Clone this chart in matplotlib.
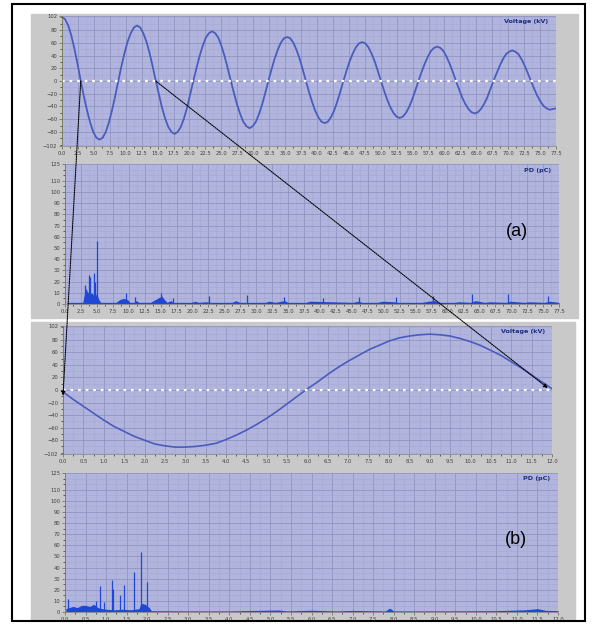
import numpy as np
import matplotlib.pyplot as plt
from matplotlib.patches import Rectangle, ConnectionPatch
from matplotlib.ticker import MultipleLocator, FormatStrFormatter

W, H = 597, 624

# (a) voltage trace, 0 - 77.5 ms (kV)
volt_a = [100, 97, 87, 71, 50, 26, 0, -24, -46, -65, -80, -89,
          -92, -89, -80, -65, -46, -24, 0, 23, 44, 62, 75, 84,
          87, 84, 75, 62, 44, 23, 0, -21, -42, -59, -72, -80,
          -83, -80, -72, -59, -42, -21, 0, 20, 39, 55, 68, 75,
          78, 75, 68, 55, 39, 20, 0, -19, -37, -52, -64, -71,
          -74, -71, -64, -52, -37, -19, 0, 18, 35, 49, 60, 67,
          69, 67, 60, 49, 35, 18, 0, -17, -33, -47, -57, -64,
          -66, -64, -57, -47, -33, -17, 0, 16, 31, 43, 53, 59,
          61, 59, 53, 43, 31, 16, 0, -15, -29, -41, -50, -56,
          -58, -56, -50, -41, -29, -15, 0, 14, 27, 38, 47, 52,
          54, 52, 47, 38, 27, 14, 0, -13, -26, -36, -44, -49,
          -51, -49, -44, -36, -26, -13, 0, 12, 24, 34, 42, 46,
          48, 46, 42, 34, 24, 12, 0, -12, -23, -32, -39, -43,
          -45, -44, -43]
time_a = np.linspace(0, 77.5, len(volt_a))

# (b) voltage trace, 0 - 12 ms
volt_b = [-3, -15, -26, -37, -48, -58, -66, -74, -80, -86, -89, -91,
          -91, -90, -88, -85, -79, -72, -64, -55, -45, -34, -22, -10,
          2, 13, 25, 36, 46, 55, 64, 71, 78, 83, 86, 88,
          89, 88, 86, 82, 77, 71, 63, 55, 45, 35, 24, 13, 2]
time_b = np.linspace(0, 12, len(volt_b))

# (a) PD: background level and spikes (pC)
floor_a_t = [0.3, 2.8, 3.0, 3.4, 3.8, 4.2, 4.6, 5.0, 5.3, 5.6,
             8.0, 8.6, 9.2, 9.8, 10.2, 10.8, 11.2, 11.6, 13.4, 14.2,
             14.8, 15.2, 15.6, 16.0, 16.6, 17.0, 19.8, 20.4, 21.0, 22.2,
             22.8, 26.2, 26.8, 27.4, 31.4, 32.0, 33.0, 34.4, 35.0, 37.8,
             38.4, 45.2, 46.0, 46.6, 49.0, 49.8, 51.6, 52.2, 56.0, 57.0,
             58.0, 58.6, 61.0, 61.8, 63.6, 64.4, 65.8, 66.6, 69.2, 69.8,
             72.0, 72.8, 75.2, 76.0, 77.5]
floor_a_h = [1.5, 1.5, 8, 12, 9, 10, 7, 9, 4, 1.5,
             1.5, 4, 5, 4, 1.5, 1.5, 3, 1.5, 1.5, 4,
             6, 7, 4, 1.5, 3, 1.5, 1.5, 2.5, 1.5, 2,
             1.5, 1.5, 3, 1.5, 1.5, 2.5, 1.5, 3, 1.5, 1.5,
             2.5, 1.5, 2.5, 1.5, 1.5, 2.5, 2, 1.5, 1.5, 2.5,
             3, 1.5, 1.5, 2, 1.5, 3, 1.5, 2, 1.5, 2.5,
             1.5, 2, 1.5, 2.5, 1.5]
spike_a_t = [3.1, 3.3, 3.8, 4.0, 4.5, 4.7, 5.07, 9.5, 11.0, 15.1, 16.9,
             22.6, 28.5, 34.4, 40.4, 46.1, 52.0, 57.7, 63.9, 69.5, 75.7]
spike_a_h = [17, 13, 26, 24, 28, 20, 56, 10, 6, 10, 5,
             7, 8, 6, 5, 6, 6, 7, 9, 9, 7]

# (b) PD
floor_b_t = [0.02, 0.1, 0.2, 0.3, 0.4, 0.5, 0.6, 0.7, 0.8, 0.9,
             1.0, 1.2, 1.4, 1.6, 1.8, 1.85, 1.95, 2.05, 2.1, 3.0,
             4.0, 5.2, 5.4, 6.0, 6.6, 7.0, 7.8, 7.9, 8.0, 9.0,
             10.5, 11.2, 11.5, 11.7, 12.0]
floor_b_h = [3, 4, 5, 4, 6, 6, 5, 7, 4, 3,
             2.5, 2, 2.5, 2, 3, 8, 7, 4, 1.2, 1,
             1, 1.8, 1, 1.6, 1, 1.4, 1, 3.5, 1, 1,
             1.2, 2, 3, 1.5, 1.2]
spike_b_t = [0.08, 0.76, 0.84, 0.95, 1.14, 1.16, 1.35, 1.43, 1.67, 1.86, 2.0]
spike_b_h = [12, 10, 23, 9, 29, 21, 15, 24, 36, 54, 27]

volt_ticks = [-102, -80, -60, -40, -20, 0, 20, 40, 60, 80, 102]
pd_ticks = [0, 10, 20, 30, 40, 50, 60, 70, 80, 90, 100, 110, 125]

plot_bg = '#b1b5de'
panel_gray = '#c9c9c9'
line_col = '#4a5cbc'
pd_col = '#1f48d6'


def box(x0, y0, x1, y1):
    return [x0 / W, 1 - y1 / H, (x1 - x0) / W, (y1 - y0) / H]


def style(ax, xmax, xstep, yticks, ylim, yminor, name):
    ax.set_facecolor(plot_bg)
    ax.set_xlim(0, xmax)
    ax.set_ylim(*ylim)
    ax.set_xticks(np.arange(0, xmax + 0.001, xstep))
    ax.xaxis.set_major_formatter(FormatStrFormatter('%.1f'))
    ax.xaxis.set_minor_locator(MultipleLocator(xstep / 2))
    ax.set_yticks(yticks)
    ax.yaxis.set_minor_locator(MultipleLocator(yminor))
    ax.grid(True, which='major', color='#9094c2', lw=0.6)
    ax.grid(True, which='minor', color='#a4a8d2', lw=0.4)
    ax.set_axisbelow(True)
    ax.tick_params(labelsize=3.8, labelcolor='#404040', colors='#606060',
                   length=2, width=0.5, pad=1.5)
    ax.tick_params(which='minor', length=1.2, width=0.4)
    for s in ['top', 'right']:
        ax.spines[s].set_visible(False)
    ax.spines['left'].set_color('#7a7a50')
    ax.spines['bottom'].set_color('#909090')
    ax.spines['left'].set_linewidth(0.6)
    ax.spines['bottom'].set_linewidth(0.6)
    ax.text(0.985, 0.975, name, transform=ax.transAxes, ha='right', va='top',
            fontsize=4.6, fontweight='bold', color='#1e2d80')


fig = plt.figure(figsize=(W / 100, H / 100), dpi=100)

# gray instrument panels and outer frame
fig.add_artist(Rectangle((31 / W, 1 - 318 / H), 547 / W, 304 / H,
                         transform=fig.transFigure, color=panel_gray, zorder=0))
fig.add_artist(Rectangle((31 / W, 1 - 620 / H), 544 / W, 298 / H,
                         transform=fig.transFigure, color=panel_gray, zorder=0))
fig.add_artist(Rectangle((12 / W, 1 - 621 / H), 573 / W, 617 / H,
                         transform=fig.transFigure, fill=False, ec='black',
                         lw=1.5, zorder=10))

ax1 = fig.add_axes(box(62, 16, 556, 146))
ax2 = fig.add_axes(box(65, 164, 559, 304))
ax3 = fig.add_axes(box(63, 326, 552, 454))
ax4 = fig.add_axes(box(65, 473, 558, 612))

style(ax1, 77.5, 2.5, volt_ticks, (-102, 102), 10, 'Voltage (kV)')
style(ax2, 77.5, 2.5, pd_ticks, (0, 125), 5, 'PD (pC)')
style(ax3, 12, 0.5, volt_ticks, (-102, 102), 10, 'Voltage (kV)')
style(ax4, 12, 0.5, pd_ticks, (0, 125), 5, 'PD (pC)')

ax1.plot(time_a, volt_a, color=line_col, lw=1.3)
ax1.axhline(0, color='white', ls=(0, (1.2, 2.2)), lw=1.6)
ax3.plot(time_b, volt_b, color=line_col, lw=1.2)
ax3.axhline(0, color='white', ls=(0, (1.2, 2.2)), lw=1.6)

ax2.fill_between(floor_a_t, 0, floor_a_h, color=pd_col, lw=0)
ax2.vlines(spike_a_t, 0, spike_a_h, color=pd_col, lw=0.9)
ax4.fill_between(floor_b_t, 0, floor_b_h, color=pd_col, lw=0)
ax4.vlines(spike_b_t, 0, spike_b_h, color=pd_col, lw=0.9)

ax2.text(0.915, 0.52, '(a)', transform=ax2.transAxes, ha='center',
         va='center', fontsize=13, family='Liberation Sans')
ax4.text(0.915, 0.52, '(b)', transform=ax4.transAxes, ha='center',
         va='center', fontsize=13, family='Liberation Sans')

# dotted arrows from zero crossings in (a) to the zoomed window (b)
for xa, xb in [((2.94, 0), (0.0, -9)), ((14.7, 0), (11.9, 3))]:
    con = ConnectionPatch(xyA=xa, coordsA=ax1.transData, xyB=xb,
                          coordsB=ax3.transData, arrowstyle='-|>',
                          linestyle=(0, (1, 1)), lw=0.8, color='black',
                          mutation_scale=6, zorder=20)
    fig.add_artist(con)

plt.savefig('out.png', dpi=100)
